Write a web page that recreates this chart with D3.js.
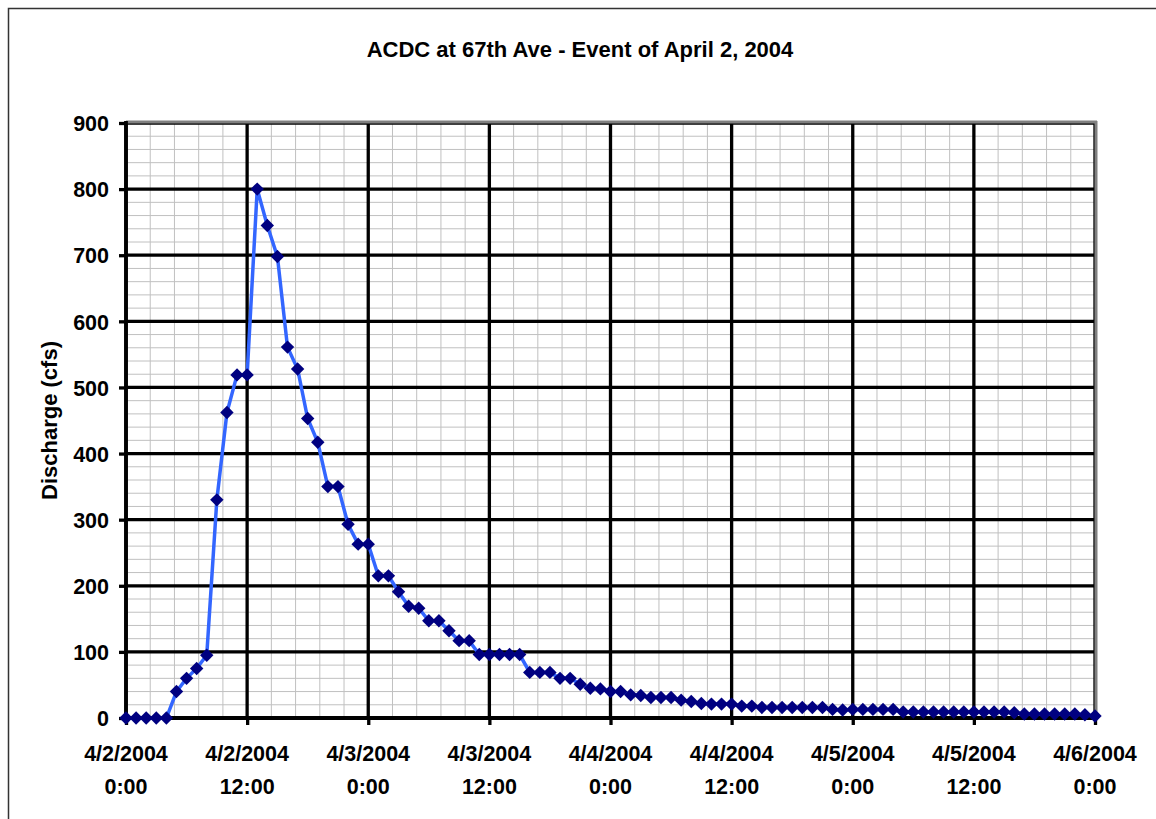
<!DOCTYPE html>
<html>
<head>
<meta charset="utf-8">
<script src="https://cdn.jsdelivr.net/npm/d3@7"></script>
<style>
  body { margin: 0; background: #fff; }
  text { font-family: "Liberation Sans", Arial, sans-serif; font-weight: bold; fill: #000; }
</style>
</head>
<body>
<svg width="1156" height="819"></svg>
<script>
// hourly discharge (cfs), starting 4/2/2004 0:00
const discharge = [0, 0, 0, 0, 0, 40, 60, 75, 95, 330,
  462, 519, 519, 800, 745, 698, 561, 528, 453, 417,
  350, 350, 293, 263, 263, 215, 215, 191, 169, 166,
  147, 147, 132, 117, 117, 96, 96, 96, 96, 96,
  69, 69, 69, 60, 60, 51, 45, 44, 40, 40,
  35, 34, 31, 31, 31, 27, 25, 22, 21, 21,
  21, 18, 18, 16, 16, 16, 16, 16, 16, 16,
  13, 12, 13, 13, 13, 13, 13, 9, 9, 9,
  9, 9, 9, 9, 9, 9, 9, 9, 8, 6,
  6, 6, 6, 6, 6, 5, 3];
const xTickHours = [0, 12, 24, 36, 48, 60, 72, 84, 96];
const xTickDates = ["4/2/2004", "4/2/2004", "4/3/2004", "4/3/2004", "4/4/2004", "4/4/2004", "4/5/2004", "4/5/2004", "4/6/2004"];
const xTickTimes = ["0:00", "12:00", "0:00", "12:00", "0:00", "12:00", "0:00", "12:00", "0:00"];
const yTicks = [0, 100, 200, 300, 400, 500, 600, 700, 800, 900];

const svg = d3.select('svg');
const pLeft = 126, pRight = 1095, pTop = 123, pBottom = 718;
const fs = '21.5px';

const x = d3.scaleLinear().domain([0, 96]).range([pLeft, pRight]);
const y = d3.scaleLinear().domain([0, 900]).range([pBottom, pTop]);

// outer chart border
svg.append('rect')
  .attr('x', 8.5).attr('y', 8.5)
  .attr('width', 1200).attr('height', 900)
  .attr('fill', 'none').attr('stroke', '#333').attr('stroke-width', 1.5);

svg.append('text')
  .attr('x', 580).attr('y', 57)
  .attr('text-anchor', 'middle')
  .style('font-size', '22px')
  .text('ACDC at 67th Ave - Event of April 2, 2004');

// minor grid
const grid = svg.append('g');
grid.selectAll('.vminor')
  .data(d3.range(0, 96.001, 2.4))
  .enter().append('line')
  .attr('x1', d => x(d)).attr('x2', d => x(d))
  .attr('y1', pTop).attr('y2', pBottom)
  .attr('stroke', '#c0c0c0').attr('stroke-width', 1);
grid.selectAll('.hminor')
  .data(d3.range(0, 901, 20))
  .enter().append('line')
  .attr('x1', pLeft).attr('x2', pRight)
  .attr('y1', d => y(d)).attr('y2', d => y(d))
  .attr('stroke', '#c0c0c0').attr('stroke-width', 1);

// major grid
grid.selectAll('.vmajor')
  .data(xTickHours)
  .enter().append('line')
  .attr('x1', d => x(d)).attr('x2', d => x(d))
  .attr('y1', pTop).attr('y2', pBottom)
  .attr('stroke', '#000').attr('stroke-width', 3.3);
grid.selectAll('.hmajor')
  .data(yTicks)
  .enter().append('line')
  .attr('x1', pLeft).attr('x2', pRight)
  .attr('y1', d => y(d)).attr('y2', d => y(d))
  .attr('stroke', '#000').attr('stroke-width', 3.3);

// plot frame: gray top/right
svg.append('line').attr('x1', pLeft).attr('x2', pRight + 2).attr('y1', pTop - 1).attr('y2', pTop - 1)
  .attr('stroke', '#808080').attr('stroke-width', 3);
svg.append('line').attr('x1', pRight + 1).attr('x2', pRight + 1).attr('y1', pTop - 2).attr('y2', pBottom)
  .attr('stroke', '#808080').attr('stroke-width', 3);

// axes
const yAxis = svg.append('g')
  .attr('transform', `translate(${pLeft},0)`)
  .call(d3.axisLeft(y).tickValues(yTicks).tickSize(7).tickPadding(10));
const xAxis = svg.append('g')
  .attr('transform', `translate(0,${pBottom})`)
  .call(d3.axisBottom(x).tickValues(xTickHours).tickSize(7).tickFormat(''));
[yAxis, xAxis].forEach(a => {
  a.select('.domain').attr('stroke', '#000').attr('stroke-width', 3.8);
  a.selectAll('.tick line').attr('stroke', '#000').attr('stroke-width', 3.3);
});
yAxis.select('.domain').attr('d', `M0,${pTop - 2}V${pBottom + 1}`);
xAxis.select('.domain').attr('d', `M${pLeft - 1},0H${pRight + 2}`);
yAxis.selectAll('.tick text')
  .style('font-size', fs).attr('fill', '#000')
  .attr('dy', '0.36em');

// two-line x labels
const xLab = svg.append('g');
xLab.selectAll('.d').data(xTickHours).enter().append('text')
  .attr('x', d => x(d)).attr('y', 761)
  .attr('text-anchor', 'middle').style('font-size', fs)
  .text((d, i) => xTickDates[i]);
xLab.selectAll('.t').data(xTickHours).enter().append('text')
  .attr('x', d => x(d)).attr('y', 794)
  .attr('text-anchor', 'middle').style('font-size', fs)
  .text((d, i) => xTickTimes[i]);

svg.append('text')
  .attr('transform', `translate(57,${(pTop + pBottom) / 2}) rotate(-90)`)
  .attr('text-anchor', 'middle')
  .style('font-size', '22px')
  .text('Discharge (cfs)');

// series
const line = d3.line().x((d, i) => x(i)).y(d => y(d));
svg.append('path')
  .datum(discharge)
  .attr('d', line)
  .attr('fill', 'none')
  .attr('stroke', '#3366ff')
  .attr('stroke-width', 3.5);

const marker = d3.symbol().type(d3.symbolSquare).size(90);
svg.selectAll('.pt')
  .data(discharge)
  .enter().append('path')
  .attr('d', marker)
  .attr('transform', (d, i) => `translate(${x(i)},${y(d)}) rotate(45)`)
  .attr('fill', '#000080');
</script>
</body>
</html>
